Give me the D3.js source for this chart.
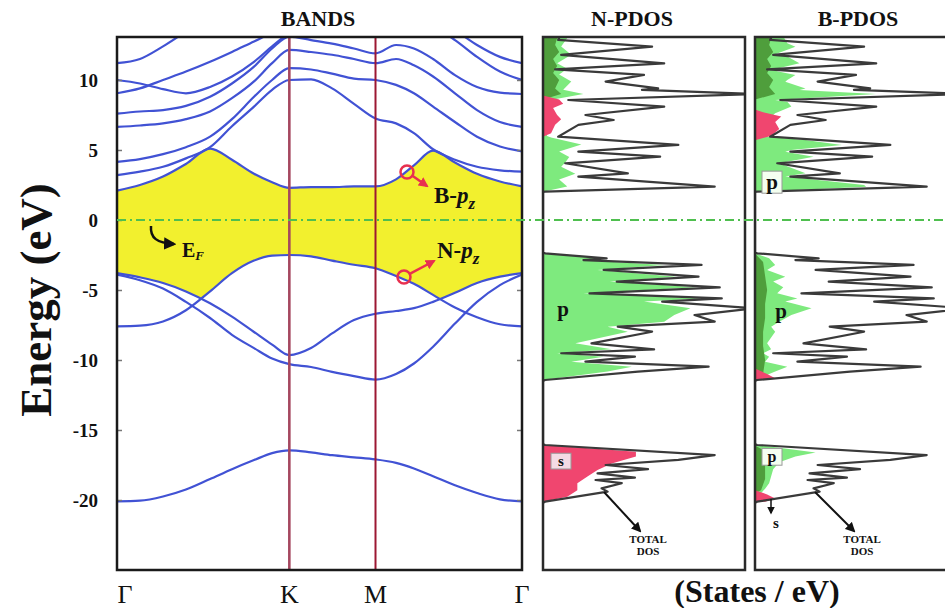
<!DOCTYPE html>
<html>
<head>
<meta charset="utf-8">
<script src="https://cdn.jsdelivr.net/npm/d3@7"></script>
<style>
  body { margin: 0; background: #fff; }
  svg text { font-family: "Liberation Serif", "Times New Roman", serif; }
</style>
</head>
<body>
<svg id="chart" width="945" height="608"></svg>
<script>
// ---- band structure data (energies in eV) ----
// k-path grid Γ -> K -> M -> Γ, in path-length units
var kGrid = [0, 0.133, 0.267, 0.40, 0.54, 0.667, 0.795, 0.90, 1.0, 1.126, 1.248, 1.375, 1.5,
             1.619, 1.723, 1.834, 1.961, 2.089, 2.222, 2.35];
var kLabels = ['Γ', 'K', 'M', 'Γ'];
var kTicks = [0, 1, 1.5, 2.35];

var bandS   = [-20.1, -20.05, -19.75, -19.25, -18.5, -17.8, -17.15, -16.65, -16.45, -16.6, -16.8, -16.95, -17.1, -17.35, -17.75, -18.3, -18.95, -19.5, -19.95, -20.1];
var sigma1  = [-3.8, -4.1, -4.5, -5.1, -5.95, -6.9, -8.0, -8.9, -9.65, -9.15, -8.1, -7.15, -6.7, -6.5, -6.3, -5.85, -5.2, -4.5, -4.05, -3.8];
var sigma2  = [-3.9, -4.3, -4.9, -5.85, -7.0, -8.2, -9.15, -9.9, -10.3, -10.5, -10.85, -11.15, -11.4, -11.0, -10.25, -9.05, -7.4, -5.85, -4.65, -3.9];
var piV     = [-7.6, -7.55, -7.25, -6.45, -5.1, -3.8, -2.9, -2.55, -2.5, -2.6, -2.9, -3.2, -3.45, -4.0, -4.55, -5.35, -6.25, -6.95, -7.45, -7.6];
var cond1   = [2.1, 2.5, 3.1, 4.0, 5.1, 4.3, 3.3, 2.7, 2.3, 2.35, 2.35, 2.4, 2.4, 2.9, 3.9, 4.95, 4.1, 3.3, 2.75, 2.4];
var cond2   = [3.2, 3.45, 3.8, 4.4, 5.2, 6.7, 8.1, 9.3, 10.0, 10.05, 9.4, 8.3, 7.25, 6.9, 6.2, 5.05, 4.3, 3.8, 3.55, 3.45];
var cond3   = [4.15, 4.35, 4.7, 5.2, 5.95, 7.2, 8.8, 10.0, 10.85, 10.75, 10.45, 10.1, 10.0, 9.65, 9.05, 8.1, 7.0, 5.95, 5.25, 4.9];
var cond4   = [6.65, 6.75, 6.9, 7.2, 7.75, 8.7, 9.9, 11.2, 12.15, 12.0, 11.8, 11.5, 11.2, 11.5, 11.05, 10.25, 9.05, 7.85, 7.0, 6.65];
var cond5   = [7.6, 7.75, 7.85, 8.15, 8.8, 9.75, 10.95, 12.25, 13.1, 12.85, 12.6, 12.25, 11.9, 12.5, 12.25, 11.5, 10.35, 9.5, 9.1, 9.0];
var cond6   = [9.05, 9.4, 10.0, 10.6, 11.3, 12.0, 12.75, 13.35, 13.8, 13.95, 14.05, 14.15, 14.3, 14.3, 14.2, 13.8, 12.85, 11.65, 10.6, 10.0];
var cond7   = [10.0, 9.75, 9.35, 9.05, 9.5, 10.25, 11.3, 12.4, 13.35, 13.8, 14.15, 14.5, 14.9, 15.1, 15.0, 14.5, 13.55, 12.5, 11.65, 11.2];
var cond8   = [11.2, 11.5, 12.4, 13.45, 14.5, 15.3, 16.0, 16.5, 17.0, 17.0, 16.8, 16.5, 16.3, 16.0, 15.8, 15.5, 15.0, 14.6, 14.3, 14.2];

// ---- density of states, [energy eV, states/eV] ----
var totalDos = [
  [13.6, 1.0], [12.86, 0.75], [12.38, 5.4], [11.79, 0.9], [11.19, 6.0], [10.76, 0.6],
  [10.36, 5.0], [9.88, 3.1], [9.4, 5.7], [9.29, 4.9], [9.0, 10.5], [8.57, 1.25],
  [8.1, 6.0], [7.5, 2.1], [7.14, 3.5], [6.79, 1.75], [5.95, 0.75], [5.36, 6.7],
  [4.88, 1.75], [4.52, 5.8], [4.05, 1.1], [3.33, 4.2], [3.1, 1.75], [2.38, 8.5],
  [2.02, 0.1], [2.0, 0], [-2.3, 0],
  [-2.38, 0.1], [-2.74, 3.15], [-2.86, 2.0], [-3.21, 7.85], [-3.57, 3.0], [-4.05, 7.7],
  [-4.4, 3.65], [-4.81, 8.75], [-5.24, 2.3], [-5.6, 8.85], [-5.83, 5.9], [-6.31, 10.5],
  [-6.79, 7.5], [-7.26, 8.5], [-7.62, 3.7], [-7.98, 5.4], [-8.81, 2.4], [-9.24, 5.5],
  [-9.52, 0.9], [-9.76, 4.55], [-10.12, 2.1], [-10.48, 8.2], [-10.83, 4.7], [-11.43, 0.1],
  [-11.5, 0], [-16.0, 0],
  [-16.07, 0.1], [-16.79, 8.5], [-17.14, 6.7], [-17.5, 3.1], [-17.8, 5.2], [-18.1, 2.7],
  [-18.4, 4.55], [-18.57, 2.6], [-18.8, 3.9], [-19.17, 2.9], [-19.4, 3.2], [-20.12, 0.1], [-20.2, 0]
];

var nP = [
  [13.6, 0.9], [13.0, 1.2], [12.4, 0.9], [11.8, 1.4], [11.2, 0.7], [10.8, 1.2], [10.4, 0.8],
  [9.9, 1.4], [9.3, 1.0], [9.0, 2.0], [8.6, 0.5], [8.3, 0.2], [6.0, 0.2], [5.9, 0.4], [5.4, 1.9],
  [4.9, 0.8], [4.5, 1.3], [4.1, 1.1], [3.8, 0.9], [3.3, 1.6], [2.9, 0.8], [2.4, 1.2], [2.02, 0],
  [-2.38, 0], [-2.74, 2.8], [-2.86, 1.8], [-3.21, 6.0], [-3.57, 2.7], [-4.05, 6.6], [-4.4, 3.3],
  [-4.81, 7.6], [-5.24, 2.0], [-5.6, 7.9], [-5.83, 5.0], [-6.31, 7.3], [-6.79, 6.5], [-7.26, 6.0],
  [-7.62, 3.2], [-7.98, 4.2], [-8.81, 1.6], [-9.24, 3.4], [-9.52, 0.7], [-9.76, 3.0], [-10.12, 1.4],
  [-10.48, 4.4], [-10.83, 3.2], [-11.43, 0]
];
var nPdark = [
  [13.6, 0.6], [13.0, 0.7], [12.5, 0.6], [12.0, 0.8], [11.5, 0.5], [11.0, 0.7], [10.5, 0.5],
  [10.0, 0.8], [9.4, 0.6], [9.0, 0.9], [8.6, 0]
];
var nS = [
  [8.9, 0], [8.6, 0.8], [8.3, 1.0], [8.0, 0.5], [7.5, 0.7], [7.2, 0.9], [6.8, 0.6], [6.2, 0.4], [5.95, 0],
  [-16.0, 0], [-16.07, 0.1], [-16.55, 4.6], [-16.9, 4.6], [-17.4, 3.4], [-17.86, 2.7], [-18.33, 2.2],
  [-18.8, 1.7], [-19.3, 1.7], [-19.76, 1.2], [-20.12, 0]
];

var bP = [
  [13.6, 1.2], [12.62, 1.6], [12.38, 2.0], [11.79, 0.9], [11.67, 1.6], [11.19, 2.2], [10.71, 0.8],
  [10.36, 2.0], [10.0, 1.6], [9.88, 1.5], [9.4, 2.5], [9.29, 2.2], [9.0, 6.0], [8.57, 1.0],
  [8.45, 1.6], [8.1, 1.8], [7.62, 1.0], [7.5, 0.9], [7.14, 1.0], [6.79, 0.8], [5.95, 0.6],
  [5.71, 2.5], [5.36, 4.3], [5.0, 1.8], [4.88, 1.5], [4.52, 2.9], [4.05, 1.2], [3.33, 2.5],
  [3.1, 1.5], [2.5, 5.4], [2.38, 5.5], [2.02, 0], [-2.38, 0],
  [-2.74, 0.7], [-3.21, 1.0], [-3.57, 0.6], [-4.05, 1.5], [-4.4, 0.9], [-4.81, 1.4], [-5.24, 1.1],
  [-5.6, 2.1], [-5.83, 1.5], [-6.31, 2.8], [-6.79, 1.8], [-7.26, 1.2], [-7.62, 0.8], [-7.98, 1.0],
  [-8.81, 0.6], [-9.24, 0.8], [-9.52, 0.4], [-9.76, 0.7], [-10.12, 0.5], [-10.48, 1.6], [-10.83, 1.0],
  [-11.43, 0], [-16.0, 0],
  [-16.07, 0.1], [-16.6, 3.0], [-16.9, 2.0], [-17.3, 1.2], [-17.8, 0.9], [-18.3, 0.8], [-18.8, 0.7],
  [-19.2, 0.5], [-19.5, 0.3], [-19.8, 0]
];
var bPdark = [
  [13.6, 0.7], [13.0, 0.8], [12.5, 0.7], [12.0, 0.9], [11.5, 0.6], [11.0, 0.8], [10.5, 0.6],
  [10.0, 0.9], [9.5, 0.7], [9.0, 1.0], [8.6, 0], [-2.4, 0], [-3.0, 0.4], [-4.0, 0.5], [-5.0, 0.6],
  [-6.0, 0.5], [-7.0, 0.5], [-8.0, 0.4], [-9.0, 0.4], [-10.0, 0.5], [-11.0, 0.4], [-11.4, 0],
  [-16.1, 0], [-16.6, 0.6], [-17.5, 0.5], [-18.5, 0.5], [-19.3, 0.3], [-19.5, 0]
];
var bS = [
  [7.9, 0], [7.7, 0.4], [7.4, 1.3], [7.0, 1.0], [6.5, 1.2], [6.0, 0.8], [5.7, 0],
  [-10.6, 0], [-11.0, 0.6], [-11.3, 1.0], [-11.43, 0],
  [-19.3, 0], [-19.6, 0.6], [-19.9, 1.0], [-20.12, 0.5], [-20.15, 0]
];

var energyTicks = [10, 5, 0, -5, -10, -15, -20];

// ---- layout ----
var svg = d3.select('#chart');
var plotTop = 37, plotBottom = 570;
var yE = d3.scaleLinear().domain([-25, 13.07]).range([plotBottom, plotTop]);
var xK = d3.scaleLinear().domain([0, 2.35]).range([117, 522]);

var colors = {
  band: '#4152d4', gap: '#f2f02e', kLine: '#a5475f', mLine: '#9c1833',
  ef: '#4fbf4f', green: '#7eea7e', darkGreen: '#4f9e3c', red: '#f0466f', total: '#3a3a3a'
};

var defs = svg.append('defs');
function marker(id, color, size) {
  defs.append('marker').attr('id', id)
    .attr('viewBox', '0 0 10 10').attr('refX', 8).attr('refY', 5)
    .attr('markerWidth', size).attr('markerHeight', size).attr('orient', 'auto')
    .append('path').attr('d', 'M0,0 L10,5 L0,10 z').attr('fill', color);
}
marker('arrBlack', '#111', 5);
marker('arrRed', '#e8304f', 4);

function clip(id, x, w) {
  defs.append('clipPath').attr('id', id).append('rect')
    .attr('x', x).attr('y', plotTop).attr('width', w).attr('height', plotBottom - plotTop);
}
clip('clipBands', 117, 405);
clip('clipN', 543, 202);
clip('clipB', 755, 202);

// ---- bands panel ----
var gb = svg.append('g').attr('clip-path', 'url(#clipBands)');
var curve = d3.curveMonotoneX;
var bandLine = d3.line()
  .x(function(d, i) { return xK(kGrid[i]); })
  .y(function(d) { return yE(d); })
  .curve(curve);
var downArea = d3.area()
  .x(function(d, i) { return xK(kGrid[i]); })
  .y0(yE(-12))
  .y1(function(d) { return yE(d); })
  .curve(curve);

// band gap: yellow below the lowest conduction band, cleared below every valence band
gb.append('path').datum(cond1).attr('d', downArea).attr('fill', colors.gap);
[sigma1, sigma2, piV].forEach(function(b) {
  gb.append('path').datum(b).attr('d', downArea).attr('fill', '#fff');
});

[bandS, sigma1, sigma2, piV, cond1, cond2, cond3, cond4, cond5, cond6, cond7, cond8].forEach(function(b) {
  gb.append('path').datum(b).attr('d', bandLine)
    .attr('fill', 'none').attr('stroke', colors.band).attr('stroke-width', 2.2);
});

gb.append('line').attr('x1', xK(1)).attr('x2', xK(1)).attr('y1', plotTop).attr('y2', plotBottom)
  .attr('stroke', colors.kLine).attr('stroke-width', 2.6);
gb.append('line').attr('x1', xK(1.5)).attr('x2', xK(1.5)).attr('y1', plotTop).attr('y2', plotBottom)
  .attr('stroke', colors.mLine).attr('stroke-width', 2);

// axes
var yAxisL = d3.axisLeft(yE).tickValues(energyTicks).tickSizeInner(-5).tickSizeOuter(0)
  .tickPadding(19).tickFormat(function(d) { return String(d); });
var gax = svg.append('g').attr('transform', 'translate(117,0)').call(yAxisL);
gax.select('.domain').remove();
gax.selectAll('.tick line').attr('stroke', '#777').attr('stroke-width', 1.5);
gax.selectAll('.tick text').attr('font-family', '"Liberation Serif", serif')
  .attr('font-weight', 'bold').attr('font-size', 19).attr('fill', '#111').attr('dy', '0.36em');

var yAxisR = d3.axisRight(yE).tickValues(energyTicks).tickSizeInner(-5).tickSizeOuter(0).tickFormat('');
var gar = svg.append('g').attr('transform', 'translate(522,0)').call(yAxisR);
gar.select('.domain').remove();
gar.selectAll('.tick line').attr('stroke', '#777').attr('stroke-width', 1.5);

svg.append('rect').attr('x', 117).attr('y', plotTop).attr('width', 405).attr('height', plotBottom - plotTop)
  .attr('fill', 'none').attr('stroke', '#1a1a1a').attr('stroke-width', 2.5);

// ---- PDOS panels ----
function drawPdos(x0, clipId, greenData, darkData, redData) {
  var xs = d3.scaleLinear().domain([0, 10]).range([x0, x0 + 202]);
  var g = svg.append('g').attr('clip-path', 'url(#' + clipId + ')');
  var area = d3.area()
    .y(function(d) { return yE(d[0]); })
    .x0(xs(0))
    .x1(function(d) { return xs(d[1]); });
  g.append('path').datum(greenData).attr('d', area).attr('fill', colors.green);
  g.append('path').datum(darkData).attr('d', area).attr('fill', colors.darkGreen);
  g.append('path').datum(redData).attr('d', area).attr('fill', colors.red);
  var line = d3.line()
    .y(function(d) { return yE(d[0]); })
    .x(function(d) { return xs(d[1]); });
  g.append('path').datum(totalDos).attr('d', line).attr('fill', 'none')
    .attr('stroke', colors.total).attr('stroke-width', 2.2).attr('stroke-linejoin', 'round');
  svg.append('rect').attr('x', x0).attr('y', plotTop).attr('width', 202).attr('height', plotBottom - plotTop)
    .attr('fill', 'none').attr('stroke', '#2a2a2a').attr('stroke-width', 2.5);
}
drawPdos(543, 'clipN', nP, nPdark, nS);
drawPdos(755, 'clipB', bP, bPdark, bS);

// Fermi level
svg.append('line').attr('x1', 117).attr('x2', 945).attr('y1', yE(0)).attr('y2', yE(0))
  .attr('stroke', colors.ef).attr('stroke-width', 2).attr('stroke-dasharray', '9,4,2,4');

// ---- titles and labels ----
function label(x, y, txt, size, opts) {
  opts = opts || {};
  return svg.append('text').attr('x', x).attr('y', y).text(txt)
    .attr('font-size', size).attr('font-weight', opts.weight || 'bold')
    .attr('text-anchor', opts.anchor || 'middle').attr('fill', '#111');
}
label(318, 26, 'BANDS', 22);
label(632, 26, 'N-PDOS', 22);
label(858, 26, 'B-PDOS', 22);

kTicks.forEach(function(k, i) {
  label(i === 0 ? xK(k) + 8 : xK(k), 603, kLabels[i], 26, {weight: 'normal'});
});
label(757, 602, '(States / eV)', 32);

svg.append('text').attr('transform', 'translate(51,300) rotate(-90)')
  .attr('text-anchor', 'middle').attr('font-size', 45).attr('font-weight', 'bold')
  .attr('fill', '#111').text('Energy (eV)');

// E_F annotation
svg.append('path').attr('d', 'M151,226 C150,238 157,243 174,244')
  .attr('fill', 'none').attr('stroke', '#111').attr('stroke-width', 2.5)
  .attr('marker-end', 'url(#arrBlack)');
var ef = label(182, 257, 'E', 20, {anchor: 'start'});
ef.append('tspan').attr('font-size', 13).attr('font-style', 'italic').attr('dy', 3).text('F');

// p_z annotations
function pz(x, y, atom) {
  var t = label(x, y, atom + '-', 23, {anchor: 'start'});
  t.append('tspan').attr('font-style', 'italic').text('p');
  t.append('tspan').attr('font-style', 'italic').attr('font-size', 17).attr('dy', 6).text('z');
}
pz(434, 203, 'B');
pz(437, 258, 'N');

function redMark(cx, cy, x2, y2) {
  svg.append('circle').attr('cx', cx).attr('cy', cy).attr('r', 6.5)
    .attr('fill', 'none').attr('stroke', '#e8304f').attr('stroke-width', 2.5);
  var dx = x2 - cx, dy = y2 - cy, len = Math.sqrt(dx * dx + dy * dy);
  svg.append('line').attr('x1', cx + dx / len * 7).attr('y1', cy + dy / len * 7)
    .attr('x2', x2).attr('y2', y2).attr('stroke', '#e8304f').attr('stroke-width', 2.5)
    .attr('marker-end', 'url(#arrRed)');
}
redMark(407, 172, 427, 186);
redMark(404, 277, 434, 261);

// PDOS labels
function boxLabel(x, y, txt, size, fill) {
  if (fill) {
    svg.append('rect').attr('x', x - 10).attr('y', y - size * 0.85).attr('width', 20).attr('height', size * 1.05)
      .attr('fill', fill).attr('stroke', '#999').attr('stroke-width', 1);
  }
  label(x, y, txt, size);
}
boxLabel(563, 316, 'p', 21);
boxLabel(561, 466, 's', 15, '#f4dbe4');
boxLabel(772, 189, 'p', 21, '#f4fff0');
boxLabel(781, 318, 'p', 21);
boxLabel(772, 462, 'p', 16, '#f4fff0');
label(776, 528, 's', 15);
svg.append('line').attr('x1', 771).attr('y1', 499).attr('x2', 771).attr('y2', 513)
  .attr('stroke', '#111').attr('stroke-width', 1.5).attr('marker-end', 'url(#arrBlack)');

function totalLabel(x, fromX, fromY) {
  label(x, 543, 'TOTAL', 11);
  label(x, 555, 'DOS', 11);
  svg.append('line').attr('x1', fromX).attr('y1', fromY).attr('x2', x - 8).attr('y2', 531)
    .attr('stroke', '#111').attr('stroke-width', 2).attr('marker-end', 'url(#arrBlack)');
}
totalLabel(648, 604, 492);
totalLabel(862, 815, 492);
</script>
</body>
</html>
